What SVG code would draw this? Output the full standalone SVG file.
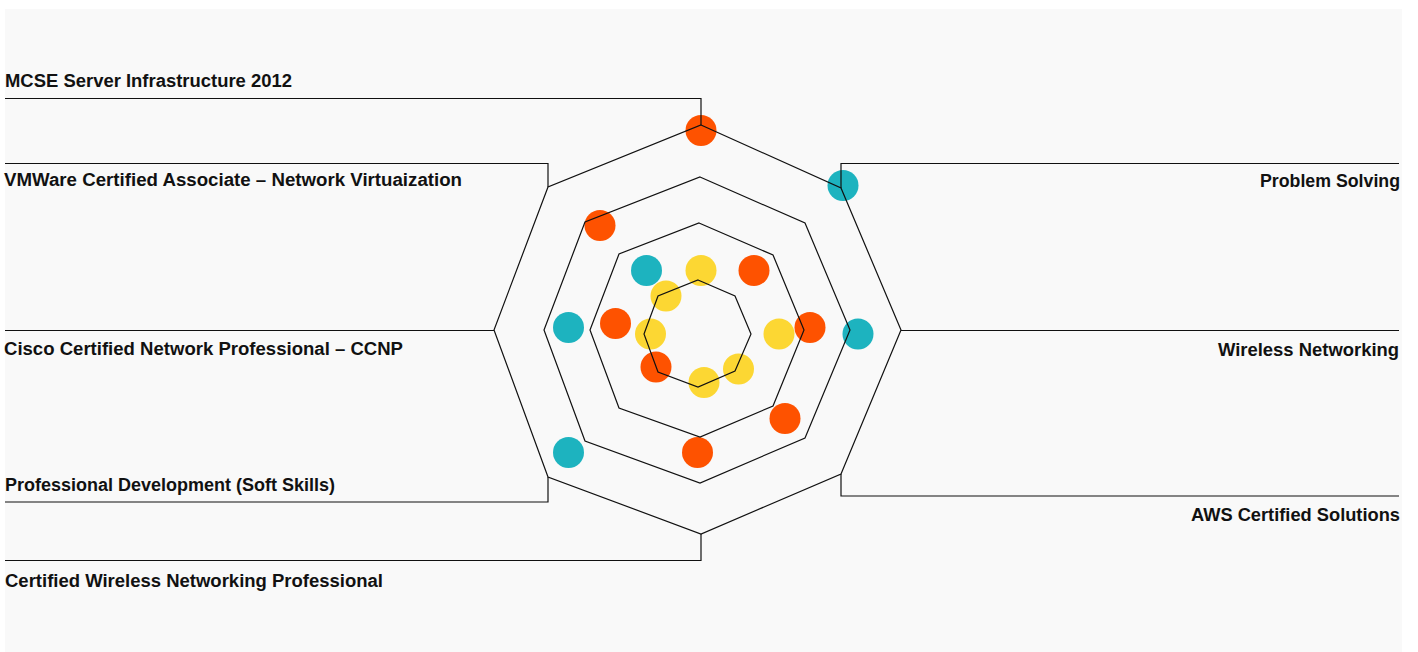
<svg xmlns="http://www.w3.org/2000/svg" width="1418" height="652" viewBox="0 0 1418 652">
  <style>
    .ring { fill: none; stroke: #111; stroke-width: 1.2; stroke-linejoin: miter; }
    .lead { fill: none; stroke: #111; stroke-width: 1.2; }
    .lbl { font-family: "Liberation Sans", Arial, sans-serif; font-weight: bold; font-size: 18px; fill: #111; }
    .end { text-anchor: end; }
    .o { fill: #FE5200; }
    .t { fill: #1DB3BF; }
    .y { fill: #FCD733; }
  </style>
  <rect x="5" y="9" width="1397" height="643" fill="#F9F9F9"/>

  <g id="dots">
    <circle id="d1" class="o" cx="701" cy="130.5" r="15.5"/>
    <circle id="d2" class="t" cx="843" cy="185.5" r="15.5"/>
    <circle id="d3" class="o" cx="600" cy="225.5" r="15.5"/>
    <circle id="d4" class="t" cx="646.5" cy="270.5" r="15.5"/>
    <circle id="d5" class="y" cx="701" cy="270.5" r="15.5"/>
    <circle id="d6" class="o" cx="754" cy="270.5" r="15.5"/>
    <circle id="d7" class="y" cx="666" cy="296" r="15.5"/>
    <circle id="d8" class="t" cx="568.5" cy="327.5" r="15.5"/>
    <circle id="d9" class="o" cx="615.5" cy="323.5" r="15.5"/>
    <circle id="d10" class="y" cx="650.5" cy="334" r="15.5"/>
    <circle id="d11" class="y" cx="779" cy="334" r="15.5"/>
    <circle id="d12" class="o" cx="810" cy="327.5" r="15.5"/>
    <circle id="d13" class="t" cx="858" cy="334" r="15.5"/>
    <circle id="d14" class="o" cx="656" cy="367" r="15.5"/>
    <circle id="d15" class="y" cx="738.5" cy="369" r="15.5"/>
    <circle id="d16" class="y" cx="704" cy="382.5" r="15.5"/>
    <circle id="d17" class="o" cx="785" cy="418.5" r="15.5"/>
    <circle id="d18" class="o" cx="697.5" cy="452.5" r="15.5"/>
    <circle id="d19" class="t" cx="568.5" cy="452.5" r="15.5"/>
  </g>

  <g id="rings">
    <polygon id="ring1" class="ring" points="701,125 841,188 901,330 841,474 701,534 548,477 494,330 548,187"/>
    <polygon id="ring2" class="ring" points="700,177 805,223 850,330 805,438 700,483 585,441 544,330 585,222"/>
    <polygon id="ring3" class="ring" points="699,223 773,255 804,330 773,406 700,437 619,408 590,330 619,254"/>
    <polygon id="ring4" class="ring" points="698,280 735,296 751,334 735,371 698,387 658,372 644,334 658,296"/>
  </g>

  <g id="connectors">
    <polyline class="lead" points="5,98.5 701,98.5 701,125"/>
    <polyline class="lead" points="5,163.5 548,163.5 548,187"/>
    <polyline class="lead" points="5,330.5 494,330.5"/>
    <polyline class="lead" points="5,502 548,502 548,477"/>
    <polyline class="lead" points="5,560.5 701,560.5 701,534"/>
    <polyline class="lead" points="1399,163.5 841,163.5 841,188"/>
    <polyline class="lead" points="1399,330.5 901,330.5"/>
    <polyline class="lead" points="1399,496 841,496 841,474"/>
  </g>

  <g id="label-mcse"><text class="lbl" x="5" y="87" textLength="287" lengthAdjust="spacingAndGlyphs">MCSE Server Infrastructure 2012</text></g>
  <g id="label-vmware"><text class="lbl" x="4" y="186" textLength="458" lengthAdjust="spacingAndGlyphs">VMWare Certified Associate – Network Virtuaization</text></g>
  <g id="label-ccnp"><text class="lbl" x="4" y="355" textLength="399" lengthAdjust="spacingAndGlyphs">Cisco Certified Network Professional – CCNP</text></g>
  <g id="label-softskills"><text class="lbl" x="5" y="491" textLength="330" lengthAdjust="spacingAndGlyphs">Professional Development (Soft Skills)</text></g>
  <g id="label-cwnp"><text class="lbl" x="5" y="587" textLength="378" lengthAdjust="spacingAndGlyphs">Certified Wireless Networking Professional</text></g>
  <g id="label-problem"><text class="lbl end" x="1400" y="187" textLength="140" lengthAdjust="spacingAndGlyphs">Problem Solving</text></g>
  <g id="label-wireless"><text class="lbl end" x="1399" y="356" textLength="181" lengthAdjust="spacingAndGlyphs">Wireless Networking</text></g>
  <g id="label-aws"><text class="lbl end" x="1400" y="521" textLength="209" lengthAdjust="spacingAndGlyphs">AWS Certified Solutions</text></g>
</svg>
